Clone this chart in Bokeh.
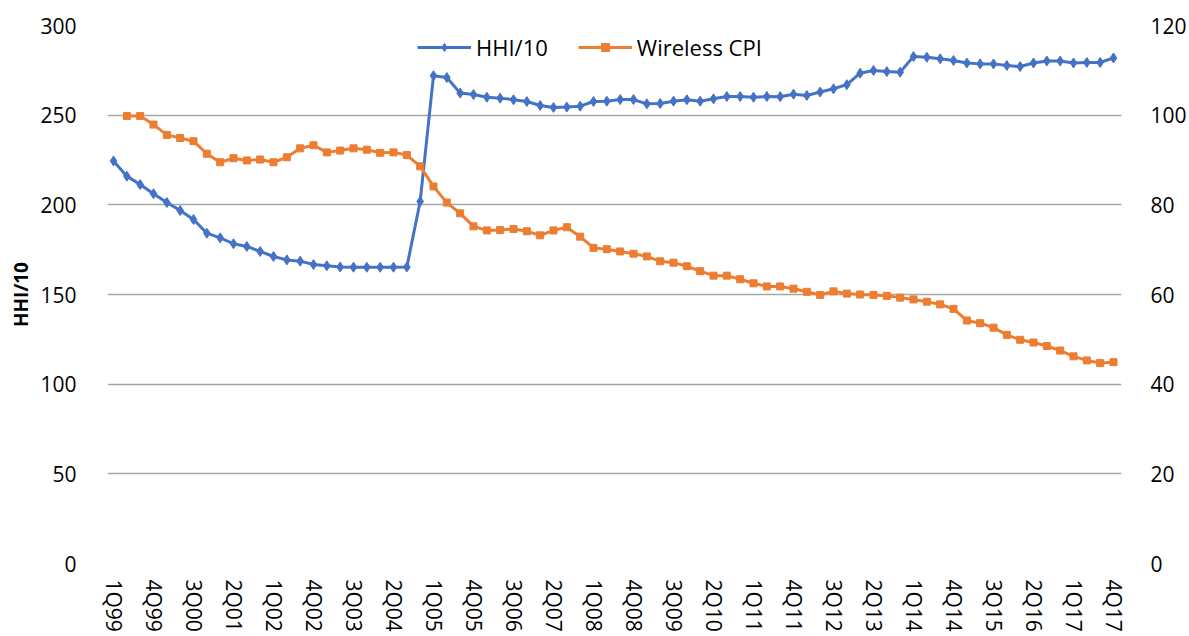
from bokeh.plotting import figure
from bokeh.models import Range1d, LinearAxis, FixedTicker
from bokeh.layouts import column
from bokeh.embed import file_html
from bokeh.resources import INLINE
import numpy as np

quarters = [
    "1Q99", "2Q99", "3Q99", "4Q99", "1Q00", "2Q00", "3Q00", "4Q00",
    "1Q01", "2Q01", "3Q01", "4Q01", "1Q02", "2Q02", "3Q02", "4Q02",
    "1Q03", "2Q03", "3Q03", "4Q03", "1Q04", "2Q04", "3Q04", "4Q04",
    "1Q05", "2Q05", "3Q05", "4Q05", "1Q06", "2Q06", "3Q06", "4Q06",
    "1Q07", "2Q07", "3Q07", "4Q07", "1Q08", "2Q08", "3Q08", "4Q08",
    "1Q09", "2Q09", "3Q09", "4Q09", "1Q10", "2Q10", "3Q10", "4Q10",
    "1Q11", "2Q11", "3Q11", "4Q11", "1Q12", "2Q12", "3Q12", "4Q12",
    "1Q13", "2Q13", "3Q13", "4Q13", "1Q14", "2Q14", "3Q14", "4Q14",
    "1Q15", "2Q15", "3Q15", "4Q15", "1Q16", "2Q16", "3Q16", "4Q16",
    "1Q17", "2Q17", "3Q17", "4Q17",
]

hhi_10 = [
    224.5, 216.0, 211.3, 206.2, 201.3, 196.8, 191.8, 184.2, 181.6, 178.3,
    176.8, 174.0, 171.2, 169.3, 168.6, 166.7, 166.0, 165.3, 165.2, 165.2,
    165.2, 165.2, 165.3, 201.9, 272.0, 271.0, 262.3, 261.5, 260.0, 259.5,
    258.6, 257.6, 255.4, 254.3, 254.5, 255.0, 257.6, 257.8, 258.7, 258.7,
    256.3, 256.5, 257.8, 258.6, 257.8, 259.1, 260.4, 260.4, 260.0, 260.4,
    260.3, 261.7, 261.0, 262.9, 264.7, 267.0, 273.4, 274.9, 274.3, 274.0,
    282.7, 282.3, 281.4, 280.5, 279.1, 278.6, 278.6, 277.7, 277.1, 279.1,
    280.2, 280.2, 279.1, 279.4, 279.4, 281.9,
]

wireless_cpi = [
    None, 99.8, 99.8, 97.9, 95.6, 94.9, 94.2, 91.4, 89.5, 90.4,
    89.9, 90.1, 89.5, 90.6, 92.6, 93.3, 91.7, 92.1, 92.6, 92.3,
    91.6, 91.7, 91.1, 88.6, 84.1, 80.5, 78.1, 75.2, 74.3, 74.4,
    74.6, 74.1, 73.2, 74.3, 75.0, 72.9, 70.4, 70.1, 69.6, 69.1,
    68.5, 67.4, 67.1, 66.3, 65.2, 64.2, 64.2, 63.4, 62.5, 61.8,
    61.8, 61.3, 60.6, 59.9, 60.7, 60.2, 60.0, 59.9, 59.7, 59.3,
    58.9, 58.4, 57.8, 56.8, 54.2, 53.6, 52.6, 51.0, 49.9, 49.3,
    48.5, 47.5, 46.2, 45.3, 44.7, 44.9,
]

left_ticks = [0, 50, 100, 150, 200, 250, 300]
right_ticks = [0, 20, 40, 60, 80, 100, 120]

x = list(range(len(quarters)))
cpi = [np.nan if v is None else v for v in wireless_cpi]

FONT = "Open Sans"
BLUE = "#4472C4"
ORANGE = "#ED7D31"
BAND = "#FF6A2B"

W = 1189
BAND_H = 5
H = 636 - BAND_H

# thin orange band across the top of the page (no title panel, so the frame fills it)
band = figure(width=W, height=BAND_H, output_backend="svg", toolbar_location=None,
              title=None, min_border=0, x_axis_type=None, y_axis_type=None,
              x_range=Range1d(0, 1), y_range=Range1d(0, 1))
band.outline_line_color = None
band.border_fill_color = BAND
band.background_fill_color = BAND
band.grid.grid_line_color = None
band.quad(left=[0], right=[1], bottom=[0], top=[1], fill_color=BAND, line_color=None)

p = figure(width=W, height=H, output_backend="svg", toolbar_location=None,
           x_range=Range1d(-0.45, 75.6), y_range=Range1d(0, 300),
           min_border_left=107, min_border_right=W - 1125,
           min_border_top=25 - BAND_H, min_border_bottom=H - (563 - BAND_H))
p.outline_line_color = None
p.extra_y_ranges = {"cpi": Range1d(0, 120)}

p.line(x, hhi_10, color=BLUE, line_width=3, legend_label="HHI/10")
p.scatter(x, hhi_10, marker="diamond", size=10, color=BLUE, legend_label="HHI/10")
p.line(x, cpi, color=ORANGE, line_width=3, y_range_name="cpi", legend_label="Wireless CPI")
p.scatter(x, cpi, marker="square", size=7, color=ORANGE, y_range_name="cpi", legend_label="Wireless CPI")

# x axis
xa = p.xaxis[0]
xa.ticker = FixedTicker(ticks=x[::3])
xa.major_label_overrides = {i: quarters[i] for i in x}
xa.major_label_orientation = "vertical"
xa.major_label_standoff = 10

# left axis
ya = p.yaxis[0]
ya.ticker = FixedTicker(ticks=left_ticks)
ya.axis_label = "HHI/10"
ya.axis_label_text_font_style = "bold"
ya.axis_label_text_font = FONT
ya.axis_label_text_font_size = "19px"
ya.axis_label_standoff = 3
ya.major_label_standoff = 25

ra = LinearAxis(y_range_name="cpi", ticker=FixedTicker(ticks=right_ticks))
ra.major_label_standoff = 23
p.add_layout(ra, "right")

for ax in [xa, ya, ra]:
    ax.axis_line_color = None
    ax.major_tick_line_color = None
    ax.minor_tick_line_color = None
    ax.major_label_text_font = FONT
    ax.major_label_text_font_size = "21px"
    ax.major_label_text_color = "#000000"
    ax.axis_label_text_color = "#000000"

p.xgrid.grid_line_color = None
p.ygrid.ticker = FixedTicker(ticks=left_ticks)
p.ygrid.grid_line_color = "#A6A6A6"
p.ygrid.grid_line_width = 1.5

lg = p.legend[0]
lg.orientation = "horizontal"
lg.location = (310, 501)
lg.border_line_color = None
lg.background_fill_alpha = 0
lg.padding = 0
lg.margin = 0
lg.spacing = 30
lg.glyph_width = 54
lg.label_standoff = 5
lg.label_text_font = FONT
lg.label_text_font_size = "22px"
lg.label_text_color = "#000000"

layout = column(band, p, spacing=0)

open("out.html", "w").write(file_html(layout, INLINE))
